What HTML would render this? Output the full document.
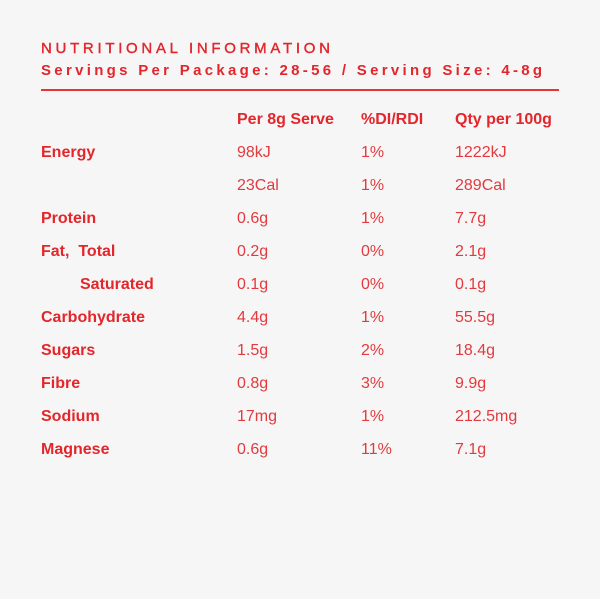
<!DOCTYPE html>
<html>
<head>
<meta charset="utf-8">
<style>
  html, body { margin:0; padding:0; }
  body { width:600px; height:599px; background:#f6f6f6; position:relative; overflow:hidden;
         font-family:"Liberation Sans", Arial, sans-serif; color:#e3262b; }
  .t { position:absolute; white-space:nowrap; font-size:16px; line-height:16px; }
  .b { font-weight:bold; }
  .title { position:absolute; left:41px; top:40.6px; font-size:15px; line-height:15px; letter-spacing:3.7px; white-space:nowrap; -webkit-text-stroke:0.4px #e3262b; }
  .sub { position:absolute; left:41px; top:62.6px; font-size:15px; line-height:15px; letter-spacing:3.3px; font-weight:bold; white-space:nowrap; }
  .rule { position:absolute; left:41px; top:89px; width:518px; height:2px; background:#e4343a; }
  .v { font-weight:normal; color:#e23a3e; }
</style>
</head>
<body>
<div class="title">NUTRITIONAL INFORMATION</div>
<div class="sub">Servings Per Package: 28-56 / Serving Size: 4-8g</div>
<div class="rule"></div>

<div class="t b" style="left:237px;top:111.5px">Per 8g Serve</div>
<div class="t b" style="left:361px;top:111.5px">%DI/RDI</div>
<div class="t b" style="left:455px;top:111.5px">Qty per 100g</div>

<div class="t b" style="left:41px;top:144.5px">Energy</div>
<div class="t v" style="left:237px;top:144.5px">98kJ</div>
<div class="t v" style="left:361px;top:144.5px">1%</div>
<div class="t v" style="left:455px;top:144.5px">1222kJ</div>

<div class="t v" style="left:237px;top:177.5px">23Cal</div>
<div class="t v" style="left:361px;top:177.5px">1%</div>
<div class="t v" style="left:455px;top:177.5px">289Cal</div>

<div class="t b" style="left:41px;top:210.5px">Protein</div>
<div class="t v" style="left:237px;top:210.5px">0.6g</div>
<div class="t v" style="left:361px;top:210.5px">1%</div>
<div class="t v" style="left:455px;top:210.5px">7.7g</div>

<div class="t b" style="left:41px;top:243.5px">Fat,&nbsp; Total</div>
<div class="t v" style="left:237px;top:243.5px">0.2g</div>
<div class="t v" style="left:361px;top:243.5px">0%</div>
<div class="t v" style="left:455px;top:243.5px">2.1g</div>

<div class="t b" style="left:80px;top:276.5px">Saturated</div>
<div class="t v" style="left:237px;top:276.5px">0.1g</div>
<div class="t v" style="left:361px;top:276.5px">0%</div>
<div class="t v" style="left:455px;top:276.5px">0.1g</div>

<div class="t b" style="left:41px;top:309.5px">Carbohydrate</div>
<div class="t v" style="left:237px;top:309.5px">4.4g</div>
<div class="t v" style="left:361px;top:309.5px">1%</div>
<div class="t v" style="left:455px;top:309.5px">55.5g</div>

<div class="t b" style="left:41px;top:342.5px">Sugars</div>
<div class="t v" style="left:237px;top:342.5px">1.5g</div>
<div class="t v" style="left:361px;top:342.5px">2%</div>
<div class="t v" style="left:455px;top:342.5px">18.4g</div>

<div class="t b" style="left:41px;top:375.5px">Fibre</div>
<div class="t v" style="left:237px;top:375.5px">0.8g</div>
<div class="t v" style="left:361px;top:375.5px">3%</div>
<div class="t v" style="left:455px;top:375.5px">9.9g</div>

<div class="t b" style="left:41px;top:408.5px">Sodium</div>
<div class="t v" style="left:237px;top:408.5px">17mg</div>
<div class="t v" style="left:361px;top:408.5px">1%</div>
<div class="t v" style="left:455px;top:408.5px">212.5mg</div>

<div class="t b" style="left:41px;top:441.5px">Magnese</div>
<div class="t v" style="left:237px;top:441.5px">0.6g</div>
<div class="t v" style="left:361px;top:441.5px">11%</div>
<div class="t v" style="left:455px;top:441.5px">7.1g</div>
</body>
</html>
